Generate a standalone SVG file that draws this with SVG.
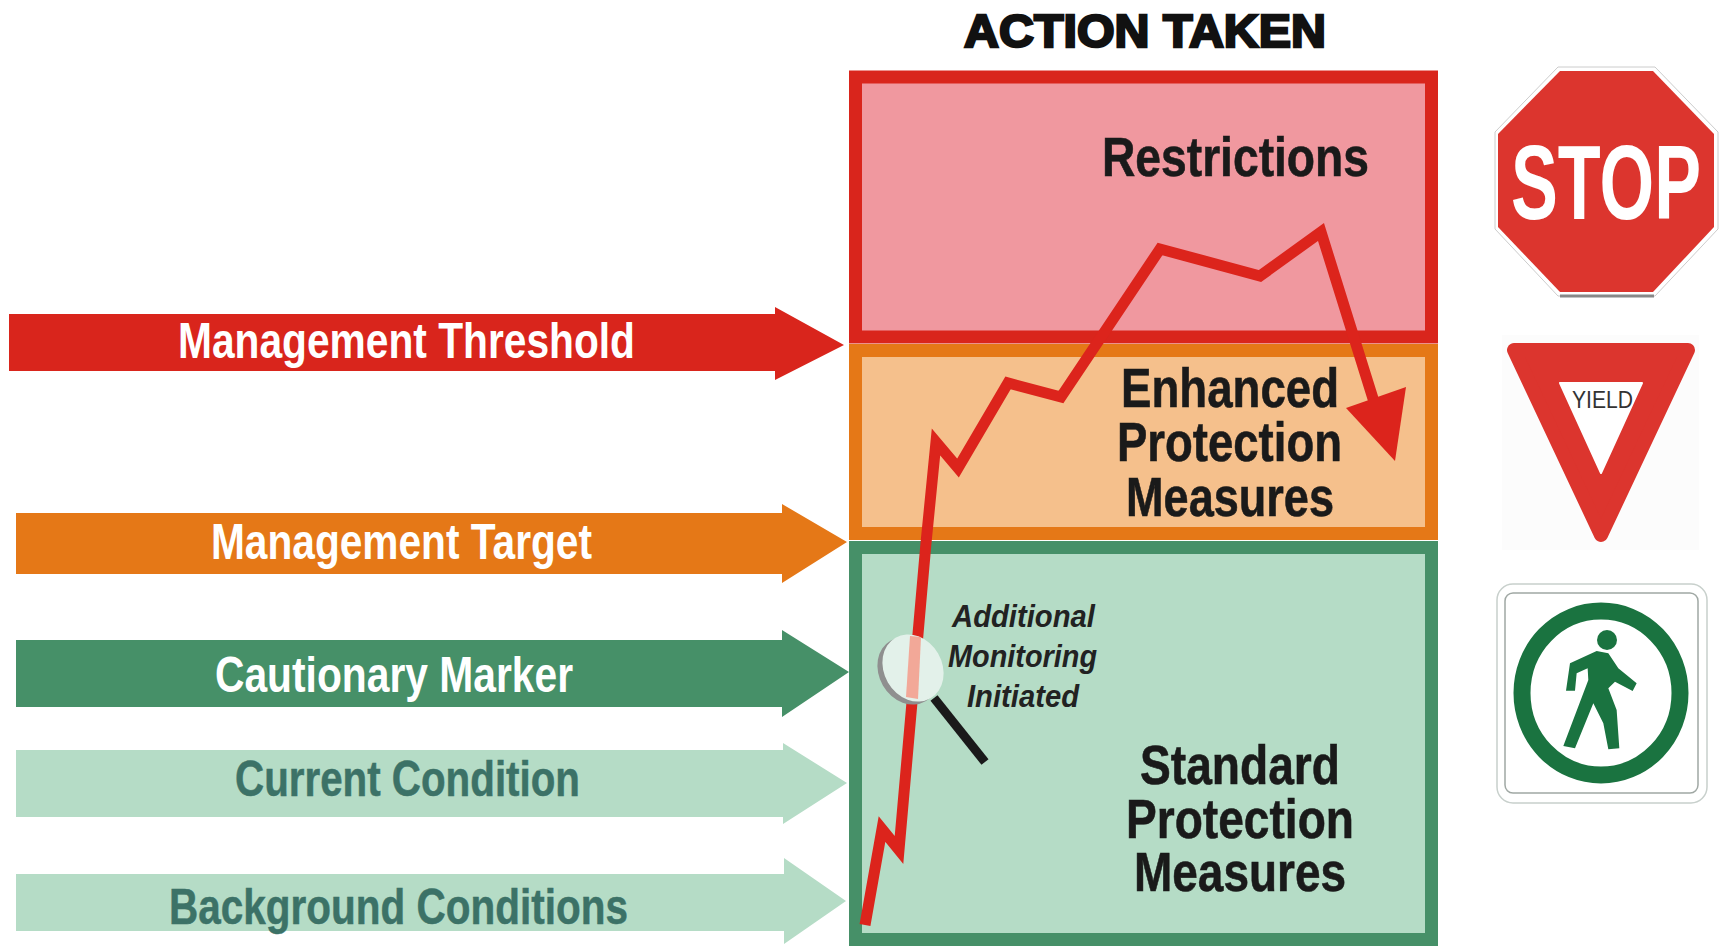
<svg xmlns="http://www.w3.org/2000/svg" width="1723" height="946" viewBox="0 0 1723 946">
<style>
text{font-family:"Liberation Sans",Arial,sans-serif;text-anchor:start}
.lab{font-size:50px;font-weight:700}
.blk{font-size:56px;font-weight:700;fill:#1a1a1a;stroke:#1a1a1a;stroke-width:.6px}
.mon{font-size:32px;font-style:italic;font-weight:700;fill:#222}
.w{fill:#fff}
.t{fill:#3c7267;stroke:#3c7267;stroke-width:.5px}
</style>
<rect width="1723" height="946" fill="#fff"/>
<g id="title"><text x="964" y="47" font-size="47" font-weight="700" fill="#111" stroke="#111" stroke-width="2.5" textLength="362" lengthAdjust="spacingAndGlyphs">ACTION TAKEN</text></g>
<g id="restrictions">
<rect x="855.500" y="77" width="576" height="260" fill="#f0989f" stroke="#d9251c" stroke-width="13"/>
<text class="blk" x="1102" y="176" textLength="267" lengthAdjust="spacingAndGlyphs">Restrictions</text>
</g>
<g id="enhanced">
<rect x="855.500" y="350.500" width="576" height="183" fill="#f5c08c" stroke="#e57817" stroke-width="13"/>
<text class="blk" x="1121" y="407" textLength="218" lengthAdjust="spacingAndGlyphs">Enhanced</text>
<text class="blk" x="1117" y="461" textLength="225" lengthAdjust="spacingAndGlyphs">Protection</text>
<text class="blk" x="1126" y="516" textLength="208" lengthAdjust="spacingAndGlyphs">Measures</text>
</g>
<g id="standard">
<rect x="855.500" y="547.500" width="576" height="392" fill="#b5dcc6" stroke="#469068" stroke-width="13"/>
<rect x="849" y="933" width="589" height="13" fill="#469068"/>
<text class="blk" x="1140" y="784" textLength="200" lengthAdjust="spacingAndGlyphs">Standard</text>
<text class="blk" x="1126" y="838" textLength="228" lengthAdjust="spacingAndGlyphs">Protection</text>
<text class="blk" x="1134" y="891" textLength="212" lengthAdjust="spacingAndGlyphs">Measures</text>
</g>
<g id="threshold">
<polygon points="9,314 775,314 775,307 844,345 775,380 775,371 9,371" fill="#d9251c"/>
<text class="lab w" x="178" y="358" textLength="457" lengthAdjust="spacingAndGlyphs">Management Threshold</text>
</g>
<g id="target">
<polygon points="16,513 782,513 782,504 847,542 782,583 782,574 16,574" fill="#e57817"/>
<text class="lab w" x="211" y="559" textLength="381" lengthAdjust="spacingAndGlyphs">Management Target</text>
</g>
<g id="cautionary">
<polygon points="16,640 782,640 782,630 849,672 782,717 782,707 16,707" fill="#469068"/>
<text class="lab w" x="215" y="692" textLength="358" lengthAdjust="spacingAndGlyphs">Cautionary Marker</text>
</g>
<g id="current">
<polygon points="16,750 783,750 783,743 847,783 783,824 783,817 16,817" fill="#b5dcc6"/>
<text class="lab t" x="235" y="796" textLength="345" lengthAdjust="spacingAndGlyphs">Current Condition</text>
</g>
<g id="background">
<polygon points="16,874 784,874 784,858 846,901 784,944 784,931 16,931" fill="#b5dcc6"/>
<text class="lab t" x="169" y="924" textLength="459" lengthAdjust="spacingAndGlyphs">Background Conditions</text>
</g>
<g id="connectors">
<polyline points="865,925 882,829 899,850 926,543 936,442 958,468 1008,383 1061,397 1160,249 1260,276 1321,232 1375,405" fill="none" stroke="#dc241c" stroke-width="11" stroke-miterlimit="10"/>
<polygon points="1346,408 1406,387 1395,461" fill="#dc241c"/>
</g>
<g id="monitoring">
<ellipse cx="908" cy="671" rx="29" ry="35" transform="rotate(-30 908 671)" fill="#8f8f8f"/>
<ellipse cx="913" cy="668" rx="29" ry="35" transform="rotate(-30 913 668)" fill="#e3f1ea"/>
<path d="M910 636L921 637L918 699L906 697Z" fill="#f2a898"/>
<line x1="934" y1="698" x2="985" y2="762" stroke="#1a1a1a" stroke-width="9"/>
<text class="mon" x="952" y="627" textLength="143" lengthAdjust="spacingAndGlyphs">Additional</text>
<text class="mon" x="948" y="667" textLength="149" lengthAdjust="spacingAndGlyphs">Monitoring</text>
<text class="mon" x="967" y="707" textLength="112" lengthAdjust="spacingAndGlyphs">Initiated</text>
</g>
<g id="stop-sign">
<polygon points="1558,67 1655,67 1718,132 1718,229 1655,296 1558,296 1495,229 1495,132" fill="#fff" stroke="#ccc" stroke-width="1"/>
<line x1="1560" y1="296" x2="1654" y2="296" stroke="#888" stroke-width="3"/>
<polygon points="1560,71 1653,71 1714,134 1714,227 1653,292 1560,292 1498,227 1498,134" fill="#dc352e"/>
<text x="1511" y="219" font-size="105" font-weight="700" fill="#fff" textLength="190" lengthAdjust="spacingAndGlyphs">STOP</text>
</g>
<g id="yield-sign">
<rect x="1502" y="335" width="197" height="215" fill="#fcfcfc"/>
<polygon points="1514,350 1688,350 1601,535" fill="#dc352e" stroke="#dc352e" stroke-width="14" stroke-linejoin="round"/>
<polygon points="1560,383 1642,383 1601,473" fill="#fff" stroke="#fff" stroke-width="2" stroke-linejoin="round"/>
<text x="1572" y="408" font-size="24" fill="#333" textLength="61" lengthAdjust="spacingAndGlyphs">YIELD</text>
</g>
<g id="pedestrian-sign">
<rect x="1497" y="584" width="210" height="219" rx="16" fill="#fff" stroke="#c8d0cc" stroke-width="1.5"/>
<rect x="1505" y="593" width="193" height="200" rx="8" fill="#fff" stroke="#a0a8a4" stroke-width="1.5"/>
<ellipse cx="1601" cy="693" rx="79" ry="82" fill="none" stroke="#1a7340" stroke-width="17"/>
<circle cx="1607" cy="640" r="10" fill="#1a7340"/>
<polygon transform="translate(1460 320) scale(.3333)" points="330,1030 410,993 445,1000 475,1045 530,1090 518,1113 465,1085 445,1105 470,1170 478,1285 445,1288 430,1210 400,1150 345,1285 310,1278 385,1080 383,1045 350,1060 345,1112 318,1112" fill="#1a7340"/>
</g>
</svg>
